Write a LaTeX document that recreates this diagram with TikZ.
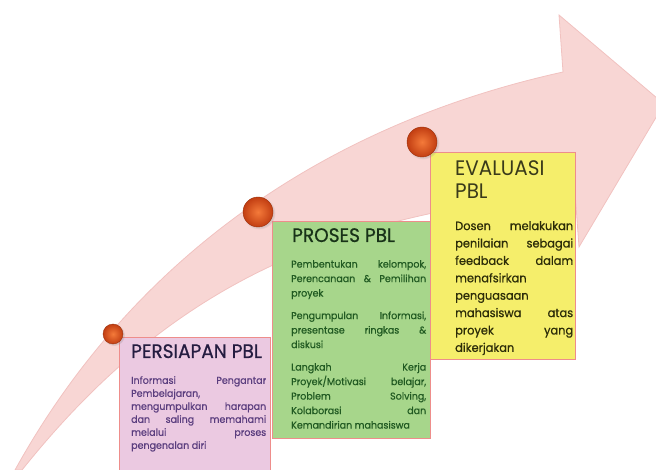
\documentclass[tikz,border=0pt]{standalone}
\usepackage{fontspec}
\setmainfont{Poppins}
\newfontfamily\titlefont[FakeStretch=0.95,FakeBold=0.6]{Poppins}
\newfontfamily\thintitlefont[FakeStretch=0.95]{Poppins}
\newfontfamily\bodyfont[FakeStretch=0.95,FakeBold=0.7]{Poppins}
\usepackage{xcolor}
\usetikzlibrary{positioning,calc,shadows}
\definecolor{arrowpink}{HTML}{F8D6D4}
\definecolor{arrowedge}{HTML}{F1C2C0}
\definecolor{boxline}{HTML}{EE8D8B}
\definecolor{pinkbox}{HTML}{EBC9E1}
\definecolor{greenbox}{HTML}{A7D68B}
\definecolor{yellowbox}{HTML}{F5EE6B}
\definecolor{pinktext}{HTML}{5A3D7E}
\definecolor{pinktitle}{HTML}{241C40}
\definecolor{greentext}{HTML}{215A22}
\definecolor{greentitle}{HTML}{183218}
\definecolor{yellowtext}{HTML}{2C2C08}
\definecolor{yellowtitle}{HTML}{3A3A1A}
\definecolor{pinlight}{HTML}{F47A3A}
\definecolor{pindark}{HTML}{C23E12}

\begin{document}
\begin{tikzpicture}[x=1pt,y=-1pt,
                stage box/.style={draw=boxline,line width=1.3pt,anchor=north west,inner sep=0pt},
                stage title/.style={anchor=north west,inner sep=0pt,align=left,font=\titlefont\fontsize{19.5}{23}\selectfont},
                stage text/.style={anchor=north west,inner sep=0pt,align=justify,font=\bodyfont\fontsize{10}{13}\selectfont},
                pin/.style={circle,inner sep=0pt,shading=radial,inner color=pinlight,outer color=pindark,
                  draw=pindark!80!black,line width=0.4pt,
                  circular drop shadow={shadow xshift=1pt,shadow yshift=-1pt,opacity=0.25}}]
\useasboundingbox (0,0) rectangle (656,470);
\clip (0,0) rectangle (656,470);
%Arrow
    \fill[arrowpink,draw=arrowedge,line width=0.8pt]
      (15,470) .. controls (120,280) and (300,130) .. (563,72) -- (559,15) -- (664,104)
      -- (579,247) -- (575,192) .. controls (330,215) and (170,285) .. (22,470) -- cycle;
%Nodes
    \node[stage box,fill=pinkbox,minimum width=151pt,minimum height=150pt] (persiapan) at (119,337) {};
    \node[stage box,fill=yellowbox,minimum width=145pt,minimum height=207pt] (evaluasi) at (430,152) {};
    \node[stage box,fill=greenbox,minimum width=158pt,minimum height=217pt] (proses) at (272,221) {};

    \node[stage title,text=pinktitle] (persiapan title) at (131,344) {PERSIAPAN PBL};
    \node[stage text,text=pinktext,text width=135pt] (persiapan text) at (131,376)
      {Informasi Pengantar\linebreak Pembelajaran,\linebreak mengumpulkan harapan\linebreak
       dan saling memahami\linebreak melalui proses\linebreak pengenalan diri};

    \node[stage title,text=greentitle] (proses title) at (292,228) {PROSES PBL};
    \node[stage text,text=greentext,text width=135pt,font=\bodyfont\fontsize{10}{14.5}\selectfont] (proses text) at (291,260)
      {\setlength{\parskip}{8pt}Pembentukan kelompok,\linebreak Perencanaan \& Pemilihan\linebreak proyek\par
       Pengumpulan Informasi,\linebreak presentase ringkas \&\linebreak diskusi\par
       Langkah Kerja\linebreak Proyek/Motivasi belajar,\linebreak Problem Solving,\linebreak
       Kolaborasi dan\linebreak Kemandirian mahasiswa};

    \node[stage title,text=yellowtitle,font=\thintitlefont\fontsize{21}{23}\selectfont] (evaluasi title) at (455,160) {EVALUASI\\PBL};
    \node[stage text,text=yellowtext,text width=118pt,font=\bodyfont\fontsize{12}{17.4}\selectfont] (evaluasi text) at (455,221)
      {Dosen melakukan\linebreak penilaian sebagai\linebreak feedback dalam\linebreak menafsirkan\linebreak
       penguasaan\linebreak mahasiswa atas\linebreak proyek yang\linebreak dikerjakan};

    \node[pin,minimum size=20pt] (pin1) at (113,334) {};
    \node[pin,minimum size=30pt] (pin2) at (258,212) {};
    \node[pin,minimum size=30pt] (pin3) at (422,142) {};
\end{tikzpicture}
\end{document}
